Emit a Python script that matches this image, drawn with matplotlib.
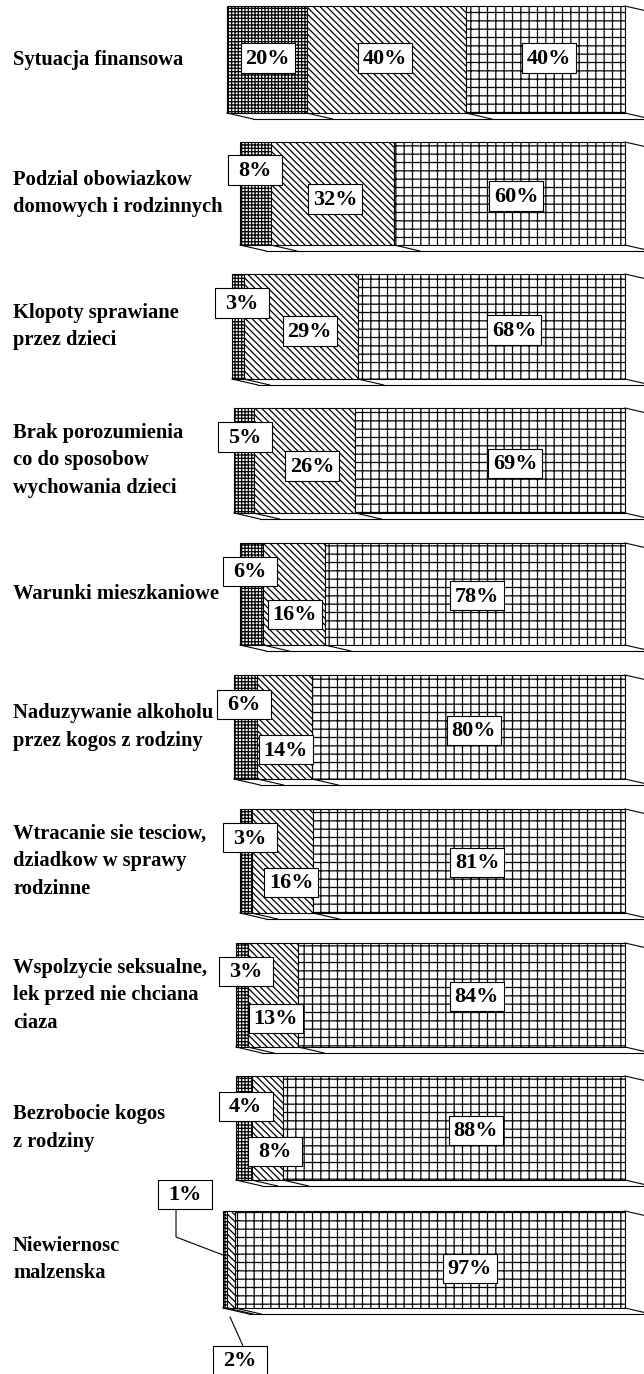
import numpy as np
import matplotlib.pyplot as plt
from matplotlib.lines import Line2D
from matplotlib.patches import Rectangle

# categories and shares (%)
categories = [
    "Sytuacja finansowa",
    "Podzial obowiazkow\ndomowych i rodzinnych",
    "Klopoty sprawiane\nprzez dzieci",
    "Brak porozumienia\nco do sposobow\nwychowania dzieci",
    "Warunki mieszkaniowe",
    "Naduzywanie alkoholu\nprzez kogos z rodziny",
    "Wtracanie sie tesciow,\ndziadkow w sprawy\nrodzinne",
    "Wspolzycie seksualne,\nlek przed nie chciana\nciaza",
    "Bezrobocie kogos\nz rodziny",
    "Niewiernosc\nmalzenska",
]
val_low = [20, 8, 3, 5, 6, 6, 3, 3, 4, 1]
val_mid = [40, 32, 29, 26, 16, 14, 16, 13, 8, 2]
val_high = [40, 60, 68, 69, 78, 80, 81, 84, 88, 97]

# layout, pixels measured from top-left
W, H = 644, 1374
bar_left = [227, 240, 232, 234, 240, 234, 240, 236, 236, 223]
bar_top = [6, 142, 274, 408, 543, 675, 809, 943, 1076, 1211]
bar_h = [107, 103, 105, 105, 102, 104, 104, 104, 104, 97]
bar_right = 625
depth_x, depth_y = 26, 6
box_w, box_h = 54, 29
# value box offsets from segment centre (right, down)
off_low = [(1, -1.5), (0, -23.5), (4, -23.5), (1, -23.5), (-2, -23), (-2, -23),
           (4, -23), (4, -24), (2, -22), (-40, -65.5)]
off_mid = [(-1, -1.5), (3, 5.5), (9, 4.5), (8, 5.5), (1, 20), (1, 23),
           (9, 21), (3, 23), (8, 23), (9, 100.5)]
off_high = [(4, -1.5), (7, 2.5), (23, 3.5), (25, 2.5), (2, 2), (5, 3),
            (8, 1), (15, 1), (22, 2), (40, 8.5)]
hatches = ['+++++', '\\' * 5, '++']

plt.rcParams['font.family'] = ['Liberation Serif', 'DejaVu Serif']
plt.rcParams['hatch.linewidth'] = 0.9

fig = plt.figure(figsize=(W / 100, H / 100), dpi=100)
fig.patch.set_facecolor('white')


def fig_xy(x, y):
    return x / W, 1 - y / H


def line_px(xs, ys, lw=0.8):
    fx = [x / W for x in xs]
    fy = [1 - y / H for y in ys]
    fig.add_artist(Line2D(fx, fy, transform=fig.transFigure, color='black',
                          lw=lw, zorder=4))


def to_px(ax, x, y):
    dx, dy = ax.transData.transform((x, y))
    return dx, H - dy


def value_box(cx, cy, txt):
    fig.add_artist(Rectangle(((cx - box_w / 2) / W, 1 - (cy + box_h / 2) / H),
                             box_w / W, box_h / H, transform=fig.transFigure,
                             facecolor='white', edgecolor='black', lw=0.8, zorder=5))
    fig.text(*fig_xy(cx, cy + 1), txt, ha='center', va='center', fontsize=16,
             fontweight='bold', zorder=6)


for i, cat in enumerate(categories):
    left, top, h = bar_left[i], bar_top[i], bar_h[i]
    ax = fig.add_axes([left / W, 1 - (top + h) / H, (bar_right - left) / W, h / H])
    ax.set_xlim(0, 100)
    ax.set_ylim(-0.5, 0.5)
    ax.axis('off')

    vals = [val_low[i], val_mid[i], val_high[i]]
    cum = np.concatenate([[0], np.cumsum(vals)])
    for j, v in enumerate(vals):
        ax.barh(0, v, left=cum[j], height=1, facecolor='white', edgecolor='black',
                hatch=hatches[j], linewidth=0.8, clip_on=False)

    # bottom face of the 3D bar
    for c in cum:
        x0, y0 = to_px(ax, c, -0.5)
        line_px([x0, x0 + depth_x], [y0, y0 + depth_y])
    x0, y0 = to_px(ax, 0, -0.5)
    line_px([x0 + depth_x, W + 5], [y0 + depth_y, y0 + depth_y])
    xr, yt = to_px(ax, 100, 0.5)
    line_px([xr, xr + depth_x], [yt, yt + depth_y])

    # category label
    cy = top + h / 2
    fig.text(13 / W, 1 - cy / H, cat, ha='left', va='center', fontsize=14.8,
             fontweight='bold', linespacing=1.5, zorder=2)

    # value boxes
    centres = []
    for j, (v, off) in enumerate(zip(vals, [off_low[i], off_mid[i], off_high[i]])):
        sx, sy = to_px(ax, cum[j] + v / 2, 0)
        centres.append((sx, sy))
        value_box(sx + off[0], sy + off[1], f"{v}%")

    if i == len(categories) - 1:
        # leader lines for the thin segments
        (s0x, s0y), (s1x, s1y) = centres[0], centres[1]
        b0x, b0y = s0x + off_low[i][0], s0y + off_low[i][1]
        line_px([b0x - 9, b0x - 9, s0x - 2], [b0y + 15, b0y + 43, s0y - 4.5])
        b1x, b1y = s1x + off_mid[i][0], s1y + off_mid[i][1]
        line_px([b1x + 3, s1x - 1], [b1y - 14, s1y + 57.5])

fig.savefig('out.png', dpi=100, facecolor='white')
